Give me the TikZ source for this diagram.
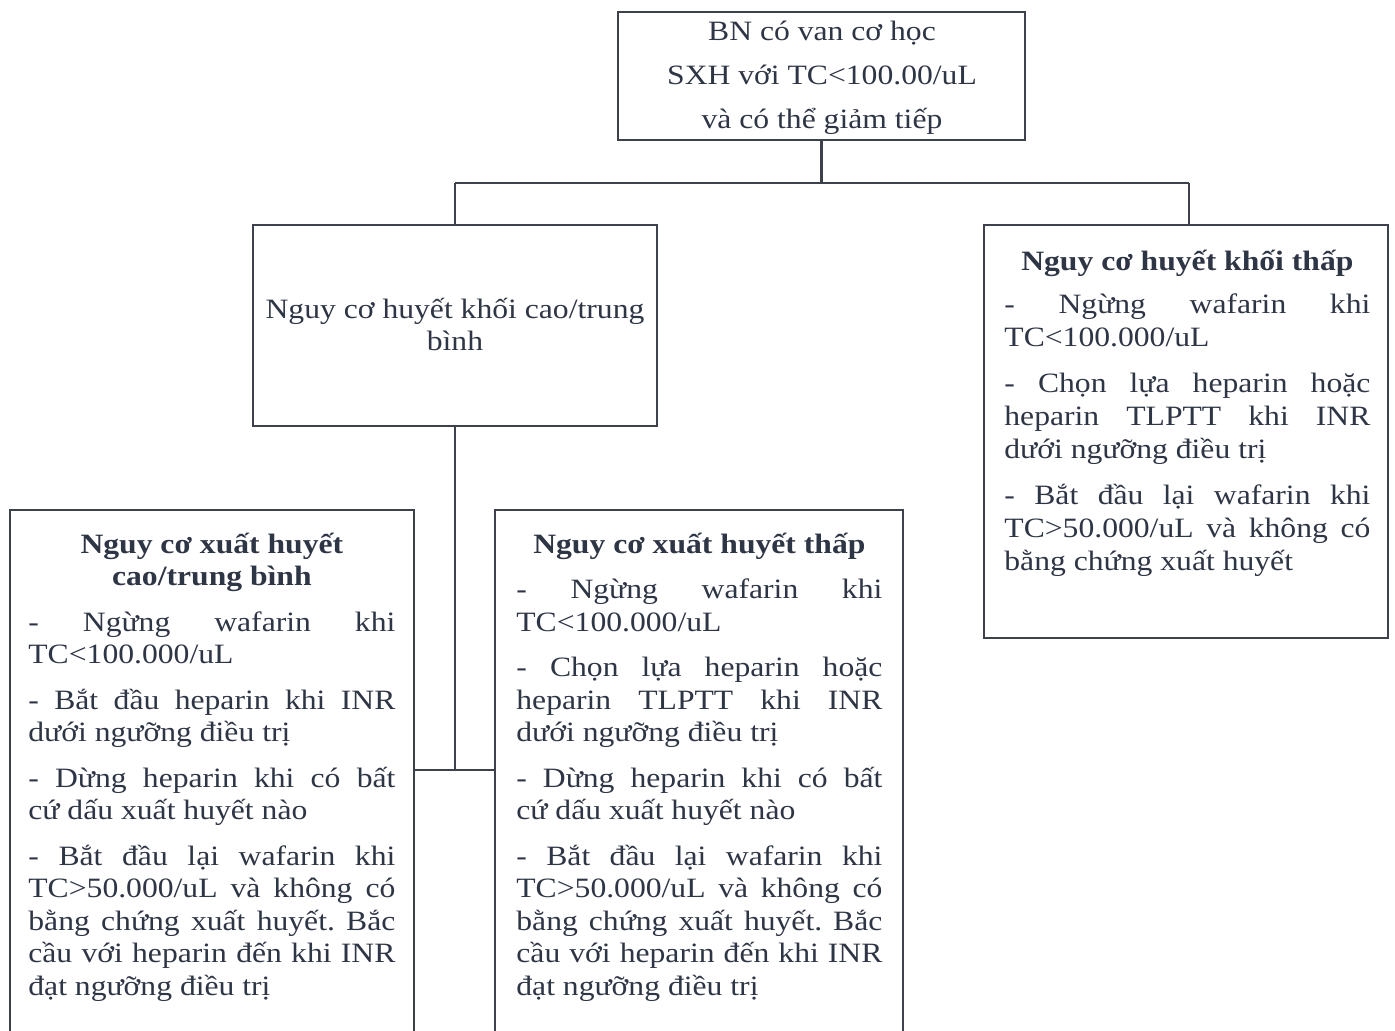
\documentclass[tikz,border=0pt]{standalone}
\usepackage{fontspec}
\setmainfont{Liberation Serif}[FakeStretch=1.13]
\frenchspacing
\definecolor{ink}{HTML}{2E3545}
\definecolor{edge}{HTML}{3C414C}
\newcommand{\jl}[1]{\makebox[\linewidth][s]{#1}}
\newcommand{\ttl}[1]{\makebox[\linewidth][c]{\bfseries #1}}
\tikzset{
  frame/.style={draw=edge, line width=0.8pt, inner sep=0pt, fill=none},
  conn/.style={draw=edge, line width=1.1pt},
  txt/.style={inner sep=0pt, text=ink, anchor=base west},
}
\begin{document}
\begin{tikzpicture}[x=0.5pt,y=-0.5pt]
\useasboundingbox (0,0) rectangle (1395,1030);
\fill[white] (0,0) rectangle (1395,1030);
\clip (0,0) rectangle (1395,1030);

% boxes
\node[frame, minimum width=203.5pt, minimum height=64pt] (top) at (821.5,76) {};
\node[frame, minimum width=202pt, minimum height=100.5pt] (ml) at (455,325.5) {};
\node[frame, minimum width=202pt, minimum height=206.5pt] (rb) at (1186,431.5) {};
\node[frame, minimum width=202pt, minimum height=267.5pt] (lb) at (212,777.5) {};
\node[frame, minimum width=204pt, minimum height=267.5pt] (mb) at (699,777.5) {};

% connectors
\coordinate (j1) at (822,183);
\coordinate (j2) at (456,770);
\coordinate (rn) at ([xshift=1.5pt]rb.north);
\draw[conn] (top.south) -- (top.south |- j1);
\draw[conn] (ml.north |- j1) -- (rn |- j1);
\draw[conn] (ml.north |- j1) -- (ml.north);
\draw[conn] (rn |- j1) -- (rn);
\draw[conn] (ml.south) -- (ml.south |- j2);
\draw[conn] (lb.east |- j2) -- (mb.west |- j2);

% texts
\node[txt, anchor=base] (topt) at (822,40) {\parbox[t]{200pt}{\fontsize{14}{22}\selectfont\centering
BN có van cơ học\\
SXH với TC<100.00/uL\\
và có thể giảm tiếp}};

\node[txt, anchor=base] (mlt) at (455,318) {\parbox[t]{200pt}{\fontsize{14}{16}\selectfont\centering
Nguy cơ huyết khối cao/trung\\
bình}};

\node[txt] (lbt) at (28,553) {\parbox[t]{183.5pt}{\fontsize{14}{16.25}\selectfont
\ttl{Nguy cơ xuất huyết}\\
\ttl{cao/trung bình}\\[6.5pt]
\jl{- Ngừng wafarin khi}\\
TC<100.000/uL\\[6.5pt]
\jl{- Bắt đầu heparin khi INR}\\
dưới ngưỡng điều trị\\[6.5pt]
\jl{- Dừng heparin khi có bất}\\
cứ dấu xuất huyết nào\\[6.5pt]
\jl{- Bắt đầu lại wafarin khi}\\
\jl{TC>50.000/uL và không có}\\
\jl{bằng chứng xuất huyết. Bắc}\\
\jl{cầu với heparin đến khi INR}\\
đạt ngưỡng điều trị}};

\node[txt] (mbt) at (516,553) {\parbox[t]{183pt}{\fontsize{14}{16.25}\selectfont
\ttl{Nguy cơ xuất huyết thấp}\\[6.5pt]
\jl{- Ngừng wafarin khi}\\
TC<100.000/uL\\[6.5pt]
\jl{- Chọn lựa heparin hoặc}\\
\jl{heparin TLPTT khi INR}\\
dưới ngưỡng điều trị\\[6.5pt]
\jl{- Dừng heparin khi có bất}\\
cứ dấu xuất huyết nào\\[6.5pt]
\jl{- Bắt đầu lại wafarin khi}\\
\jl{TC>50.000/uL và không có}\\
\jl{bằng chứng xuất huyết. Bắc}\\
\jl{cầu với heparin đến khi INR}\\
đạt ngưỡng điều trị}};

\node[txt] (rbt) at (1004,270) {\parbox[t]{183pt}{\fontsize{14}{16.5}\selectfont
\ttl{Nguy cơ huyết khối thấp}\\[5pt]
\jl{- Ngừng wafarin khi}\\
TC<100.000/uL\\[6.5pt]
\jl{- Chọn lựa heparin hoặc}\\
\jl{heparin TLPTT khi INR}\\
dưới ngưỡng điều trị\\[6.5pt]
\jl{- Bắt đầu lại wafarin khi}\\
\jl{TC>50.000/uL và không có}\\
bằng chứng xuất huyết}};
\end{tikzpicture}
\end{document}
